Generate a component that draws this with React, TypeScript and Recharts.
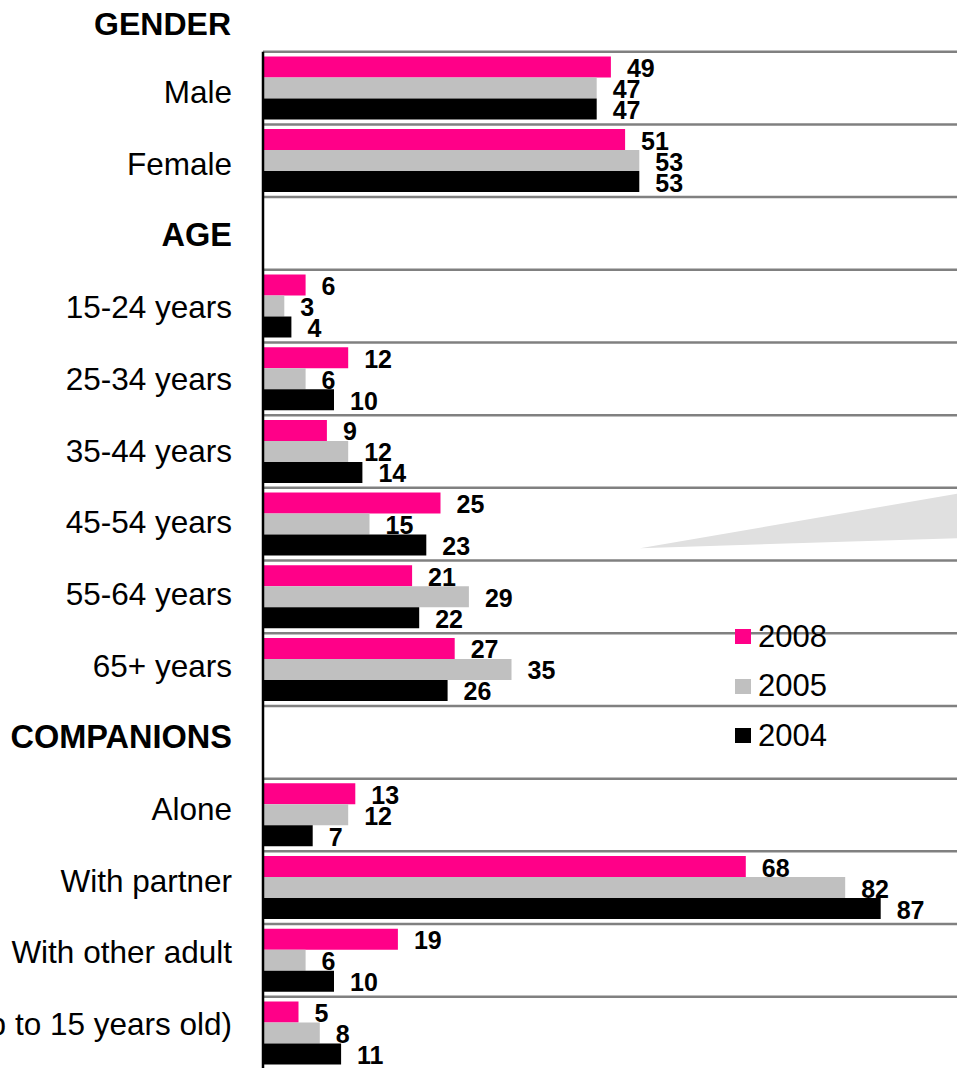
import React from 'react';
import {
  BarChart,
  Bar,
  XAxis,
  YAxis,
  LabelList,
  ReferenceLine,
  ReferenceArea,
  Legend,
} from 'recharts';

// Row labels, top to bottom. Section titles carry no values.
const categories = [
  'Male',
  'Female',
  'AGE',
  '15-24 years',
  '25-34 years',
  '35-44 years',
  '45-54 years',
  '55-64 years',
  '65+ years',
  'COMPANIONS',
  'Alone',
  'With partner',
  'With other adult',
  'With children (up to 15 years old)',
];

const values2008 = [49, 51, null, 6, 12, 9, 25, 21, 27, null, 13, 68, 19, 5];
const values2005 = [47, 53, null, 3, 6, 12, 15, 29, 35, null, 12, 82, 6, 8];
const values2004 = [47, 53, null, 4, 10, 14, 23, 22, 26, null, 7, 87, 10, 11];

const seriesNames = ['2008', '2005', '2004'];
const sectionTitles = ['GENDER', 'AGE', 'COMPANIONS'];

const data = categories.map((category, i) => ({
  category,
  y2008: values2008[i],
  y2005: values2005[i],
  y2004: values2004[i],
}));

const FONT = '"Liberation Sans", Arial, Helvetica, sans-serif';
const PINK = '#FF0088';
const GRAY = '#C0C0C0';
const BLACK = '#000000';
const RULE = '#808080';

// Row captions sit on a slightly tighter pitch than the bar rows.
const CategoryTick = (props: any) => {
  const { x, y, payload, index } = props;
  const isTitle = sectionTitles.includes(payload.value);
  const dy = 4 - (Number(index) || 0) * 1.0;
  return (
    <text
      x={x}
      y={Number(y) + dy}
      textAnchor="end"
      dominantBaseline="central"
      fontFamily={FONT}
      fontSize={isTitle ? 32.5 : 31.5}
      fontWeight={isTitle ? 'bold' : 'normal'}
      fill="#000"
    >
      {payload.value}
    </text>
  );
};

const ValueLabel = (props: any) => {
  const { x, y, width, height, value } = props;
  if (value === null || value === undefined) return null;
  return (
    <text
      x={Number(x) + Number(width) + 16}
      y={Number(y) + Number(height) / 2 + 1}
      dominantBaseline="central"
      fontFamily={FONT}
      fontSize={25}
      fontWeight="bold"
      fill="#000"
    >
      {value}
    </text>
  );
};

// Light grey wedge decoration in the 45-54 row.
const Wedge = (props: any) => {
  const { x, y, width, height } = props;
  const pts = [
    [x + width * 0.531, y + height * 0.83],
    [x + width, y + height * 0.044],
    [x + width, y + height * 0.685],
  ]
    .map((p) => p.join(','))
    .join(' ');
  return <polygon points={pts} fill="#E0E0E0" />;
};

const LegendContent = (props: any) => {
  const items = [...(props.payload || [])].sort(
    (a: any, b: any) => seriesNames.indexOf(a.value) - seriesNames.indexOf(b.value)
  );
  return (
    <div>
      {items.map((entry: any) => (
        <div
          key={entry.value}
          style={{ display: 'flex', alignItems: 'center', height: 49.5 }}
        >
          <span
            style={{
              display: 'inline-block',
              width: 16,
              height: 15,
              background: entry.color,
              marginRight: 7,
            }}
          />
          <span style={{ fontFamily: FONT, fontSize: 31, color: '#000' }}>
            {entry.value}
          </span>
        </div>
      ))}
    </div>
  );
};

export default function App() {
  return (
    <div
      style={{
        position: 'absolute',
        left: 0,
        top: 0,
        width: 957,
        height: 1068,
        overflow: 'hidden',
        background: '#fff',
      }}
    >
      <div
        style={{
          position: 'absolute',
          left: 0,
          width: 231,
          top: 8,
          textAlign: 'right',
          fontFamily: FONT,
          fontSize: 32,
          fontWeight: 'bold',
          lineHeight: '32px',
          zIndex: 2,
        }}
      >
        {sectionTitles[0]}
      </div>
      <BarChart
        width={973}
        height={1100}
        data={data}
        layout="vertical"
        margin={{ top: 51.7, right: 0, bottom: 30.6, left: 0 }}
        barCategoryGap="6.5%"
        barGap={0}
      >
        <XAxis type="number" domain={[0, 100]} hide />
        <YAxis
          type="category"
          dataKey="category"
          width={263}
          axisLine={{ stroke: '#000', strokeWidth: 2.5 }}
          tickLine={false}
          tickSize={6}
          tickMargin={25}
          interval={0}
          tick={<CategoryTick />}
        />
        <ReferenceArea
          y1="45-54 years"
          y2="45-54 years"
          shape={<Wedge />}
          ifOverflow="visible"
        />
        {categories.map((c) => (
          <ReferenceLine
            key={'s-' + c}
            y={c}
            position="start"
            stroke={RULE}
            strokeWidth={2.5}
            ifOverflow="visible"
          />
        ))}
        <ReferenceLine
          y={categories[categories.length - 1]}
          position="end"
          stroke={RULE}
          strokeWidth={2.5}
          ifOverflow="visible"
        />
        <Bar dataKey="y2008" name={seriesNames[0]} fill={PINK} isAnimationActive={false}>
          <LabelList dataKey="y2008" content={<ValueLabel />} />
        </Bar>
        <Bar dataKey="y2005" name={seriesNames[1]} fill={GRAY} isAnimationActive={false}>
          <LabelList dataKey="y2005" content={<ValueLabel />} />
        </Bar>
        <Bar dataKey="y2004" name={seriesNames[2]} fill={BLACK} isAnimationActive={false}>
          <LabelList dataKey="y2004" content={<ValueLabel />} />
        </Bar>
        <Legend
          layout="vertical"
          align="center"
          verticalAlign="middle"
          content={<LegendContent />}
          wrapperStyle={{ position: 'absolute', left: 735, top: 612, width: 'auto' }}
        />
      </BarChart>
    </div>
  );
}
